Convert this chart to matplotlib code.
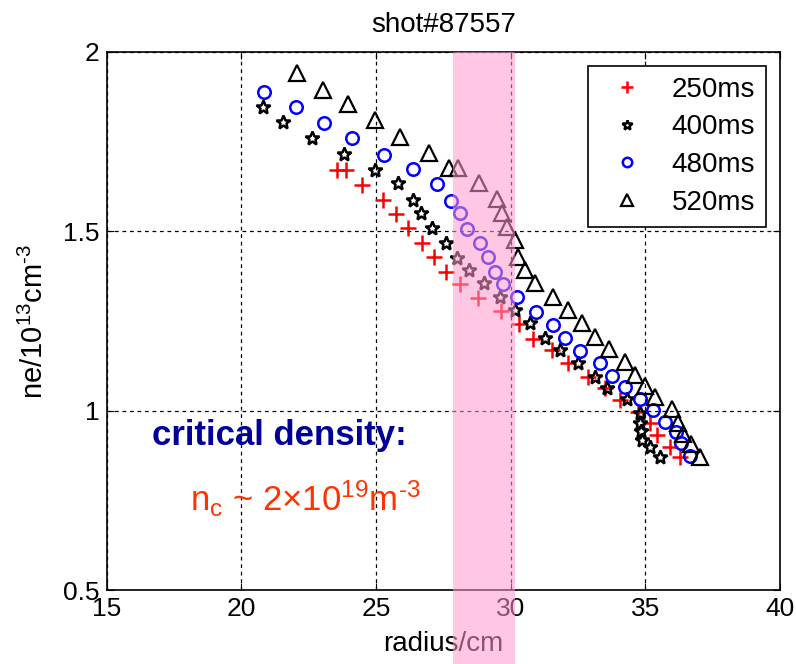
import numpy as np
import matplotlib
matplotlib.use("Agg")
import matplotlib.pyplot as plt

plt.rcParams['font.family'] = ['Liberation Sans', 'DejaVu Sans']
plt.rcParams['mathtext.fontset'] = 'custom'
plt.rcParams['mathtext.rm'] = 'Liberation Sans'
plt.rcParams['mathtext.it'] = 'Liberation Sans:italic'

# values (radius in cm, ne in 1e13 cm^-3)
r_250 = [23.54, 23.88, 24.47, 25.25, 25.74, 26.18, 26.70, 27.15, 27.59, 28.11, 28.78, 29.64,
         30.31, 30.82, 31.53, 32.12, 32.87, 33.50, 34.06, 34.73, 35.17, 35.43, 35.91, 36.29]
ne_250 = [1.671, 1.671, 1.629, 1.587, 1.548, 1.509, 1.468, 1.428, 1.387, 1.353, 1.314, 1.278,
          1.242, 1.200, 1.169, 1.133, 1.094, 1.063, 1.030, 0.996, 0.966, 0.932, 0.899, 0.871]

r_400 = [20.80, 21.54, 22.62, 23.80, 24.96, 25.81, 26.37, 26.66, 27.07, 27.59, 28.00, 28.45,
         29.00, 29.60, 30.16, 30.71, 31.27, 31.83, 32.50, 33.13, 33.57, 34.32, 34.80, 34.80,
         34.84, 34.87, 35.17, 35.54]
ne_400 = [1.847, 1.805, 1.760, 1.716, 1.671, 1.635, 1.587, 1.551, 1.509, 1.468, 1.426, 1.392,
          1.356, 1.317, 1.281, 1.245, 1.203, 1.169, 1.133, 1.094, 1.063, 1.033, 0.994, 0.966,
          0.943, 0.918, 0.899, 0.871]

r_480 = [20.83, 22.02, 23.06, 24.10, 25.29, 26.37, 27.26, 27.78, 28.11, 28.37, 28.86, 29.15,
         29.41, 29.71, 30.23, 30.94, 31.57, 32.01, 32.57, 33.31, 33.76, 34.24, 34.80, 35.28,
         35.73, 36.14, 36.32, 36.66]
ne_480 = [1.888, 1.847, 1.802, 1.760, 1.713, 1.674, 1.632, 1.585, 1.551, 1.506, 1.468, 1.428,
          1.387, 1.353, 1.317, 1.275, 1.239, 1.203, 1.166, 1.133, 1.097, 1.066, 1.033, 1.002,
          0.968, 0.941, 0.910, 0.874]

r_520 = [22.06, 23.02, 23.95, 24.96, 25.88, 26.96, 27.70, 28.04, 28.82, 29.49, 29.67, 29.86,
         30.16, 30.27, 30.53, 30.90, 31.57, 32.12, 32.65, 33.13, 33.65, 34.24, 34.61, 34.99,
         35.36, 35.99, 36.21, 36.40, 36.69, 37.03]
ne_520 = [1.941, 1.894, 1.855, 1.810, 1.763, 1.718, 1.677, 1.677, 1.635, 1.590, 1.551, 1.512,
          1.476, 1.428, 1.392, 1.356, 1.317, 1.281, 1.245, 1.205, 1.172, 1.136, 1.100, 1.069,
          1.038, 1.005, 0.966, 0.935, 0.907, 0.871]

band = (27.85, 30.15)

fig = plt.figure(figsize=(7.96, 6.64), dpi=100)
ax = fig.add_axes([0.134, 0.111, 0.846, 0.811])

ax.plot(r_250, ne_250, ls='none', marker='+', ms=11, mew=1.8, color='red', label='250ms')
ax.plot(r_400, ne_400, ls='none', marker='*', ms=10, mew=1.8, mfc='none', mec='k', label='400ms')
ax.plot(r_480, ne_480, ls='none', marker='o', ms=9, mew=1.8, mfc='none', mec='blue', label='480ms')
ax.plot(r_520, ne_520, ls='none', marker='^', ms=11, mew=1.6, mfc='none', mec='k', label='520ms')

ax.set_xlim(15, 40)
ax.set_ylim(0.5, 2)
ax.set_xticks([15, 20, 25, 30, 35, 40])
ax.set_yticks([0.5, 1, 1.5, 2])
ax.set_yticklabels(['0.5', '1', '1.5', '2'])
ax.grid(True, color='k', ls=(0, (3, 3)), lw=0.9)
ax.tick_params(direction='in', top=True, right=True, labelsize=19, length=5, pad=5)
for s in ax.spines.values():
    s.set_linewidth(1.2)

ax.set_title('shot#87557', fontsize=20, pad=14)
ax.set_xlabel('radius/cm', fontsize=20, labelpad=7)
ax.set_ylabel('ne/10$\\mathregular{^{13}}$cm$\\mathregular{^{\u20103}}$', fontsize=21, labelpad=10)

leg = ax.legend(loc='upper right', fontsize=20, frameon=True, fancybox=False,
                edgecolor='k', framealpha=1, borderpad=0.4, labelspacing=0.42,
                handletextpad=0.6, handlelength=2.0, markerscale=0.75, borderaxespad=0.5)
leg.get_frame().set_linewidth(1.2)

ax.text(16.67, 0.905, 'critical density:', color='#000099', fontsize=25, fontweight='bold',
        ha='left', va='baseline')
ax.text(18.08, 0.72, 'n$\\mathregular{_c}$ ~ 2×10$\\mathregular{^{19}}$m$\\mathregular{^{\u20103}}$',
        color='#ff3300', fontsize=25, ha='left', va='baseline')

ax.axvspan(band[0], band[1], ymin=-0.14, ymax=1, color='#ff99cc', alpha=0.55,
           lw=0, zorder=5, clip_on=False)

fig.savefig('out.png', dpi=100)
